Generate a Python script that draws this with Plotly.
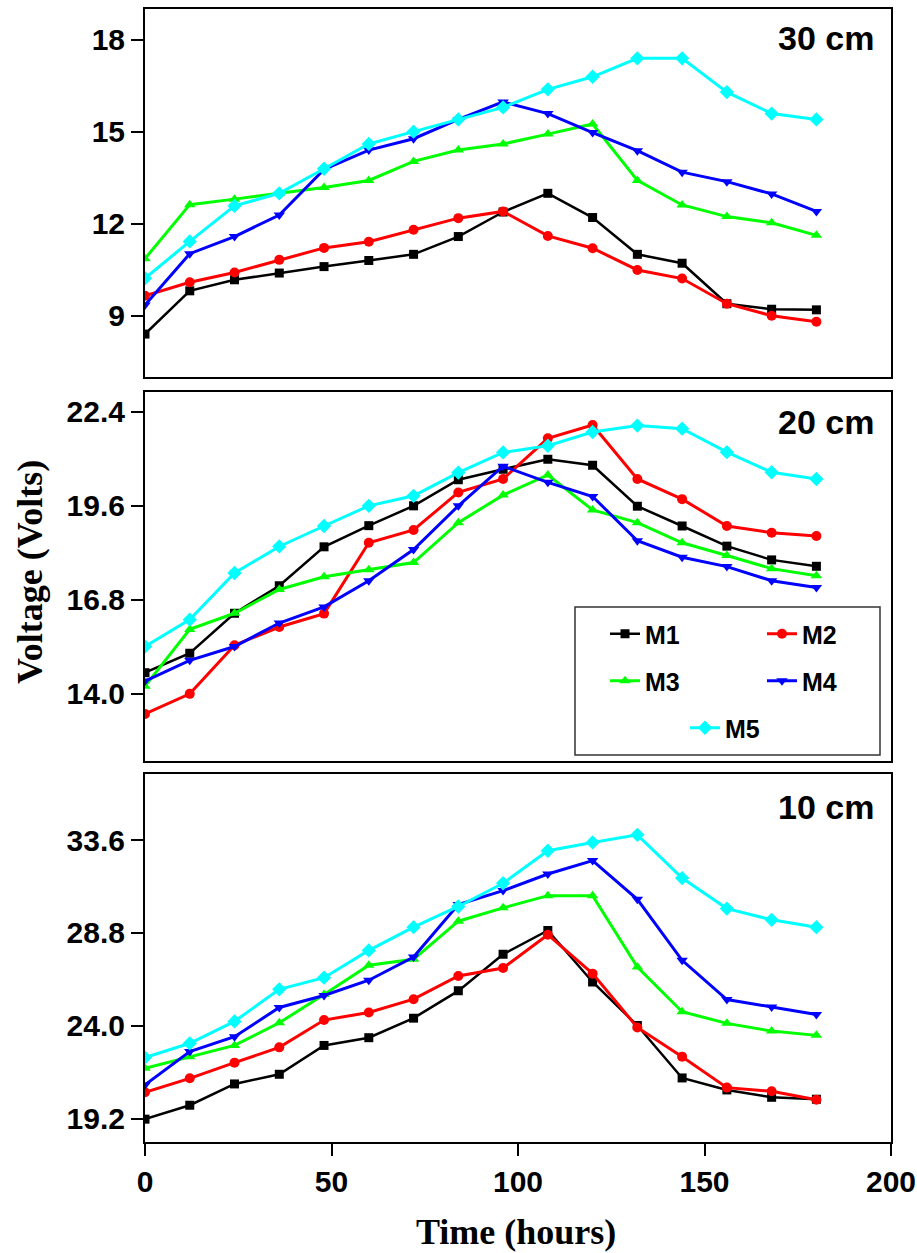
import plotly.graph_objects as go
from plotly.subplots import make_subplots

time_h = [0, 12, 24, 36, 48, 60, 72, 84, 96, 108, 120, 132, 144, 156, 168, 180]
series_names = ["M1", "M2", "M3", "M4", "M5"]
colors = ["#000000", "#FF0000", "#00FF00", "#0000FF", "#00FFFF"]
symbols = ["square", "circle", "triangle-up", "triangle-down", "diamond"]
marker_sizes = [9, 10, 10, 10, 11]
legend_ids = ["legend", "legend", "legend2", "legend2", "legend3"]

# 30 cm panel
v30_M1 = [8.4, 9.81, 10.17, 10.39, 10.6, 10.8, 11.0, 11.58, 12.38, 12.99, 12.2, 11.0, 10.71, 9.39, 9.21, 9.19]
v30_M2 = [9.65, 10.09, 10.41, 10.82, 11.21, 11.41, 11.8, 12.18, 12.4, 11.6, 11.2, 10.49, 10.21, 9.39, 9.0, 8.8]
v30_M3 = [10.86, 12.62, 12.8, 12.99, 13.18, 13.41, 14.03, 14.4, 14.6, 14.92, 15.25, 13.41, 12.61, 12.23, 12.03, 11.62]
v30_M4 = [9.35, 11.02, 11.58, 12.28, 13.77, 14.4, 14.77, 15.4, 15.97, 15.59, 14.97, 14.38, 13.68, 13.37, 12.97, 12.4]
v30_M5 = [10.22, 11.42, 12.58, 12.99, 13.79, 14.6, 15.0, 15.4, 15.79, 16.38, 16.79, 17.39, 17.39, 16.29, 15.59, 15.4]

# 20 cm panel
v20_M1 = [14.63, 15.21, 16.4, 17.22, 18.38, 19.01, 19.6, 20.38, 20.69, 20.99, 20.81, 19.59, 19.0, 18.4, 17.99, 17.8]
v20_M2 = [13.4, 14.0, 15.45, 15.99, 16.39, 18.5, 18.88, 20.0, 20.4, 21.61, 22.01, 20.4, 19.8, 19.0, 18.8, 18.7]
v20_M3 = [14.23, 15.92, 16.4, 17.11, 17.49, 17.7, 17.91, 19.1, 19.92, 20.52, 19.48, 19.1, 18.5, 18.12, 17.73, 17.52]
v20_M4 = [14.38, 15.0, 15.41, 16.11, 16.59, 17.37, 18.3, 19.6, 20.78, 20.3, 19.88, 18.56, 18.07, 17.79, 17.37, 17.17]
v20_M5 = [15.41, 16.21, 17.6, 18.39, 19.0, 19.6, 19.9, 20.59, 21.19, 21.39, 21.8, 21.99, 21.9, 21.2, 20.6, 20.4]

# 10 cm panel
v10_M1 = [19.18, 19.9, 21.0, 21.5, 22.99, 23.39, 24.4, 25.81, 27.7, 28.93, 26.27, 24.02, 21.31, 20.69, 20.31, 20.21]
v10_M2 = [20.57, 21.29, 22.1, 22.89, 24.3, 24.69, 25.38, 26.58, 26.99, 28.71, 26.7, 23.92, 22.41, 20.81, 20.62, 20.18]
v10_M3 = [21.81, 22.41, 22.99, 24.16, 25.62, 27.13, 27.44, 29.41, 30.1, 30.73, 30.73, 27.04, 24.73, 24.13, 23.73, 23.51]
v10_M4 = [20.95, 22.67, 23.44, 24.95, 25.57, 26.36, 27.56, 30.27, 30.99, 31.85, 32.54, 30.54, 27.39, 25.36, 24.98, 24.59]
v10_M5 = [22.36, 23.1, 24.23, 25.89, 26.49, 27.9, 29.1, 30.17, 31.37, 33.05, 33.48, 33.87, 31.64, 30.06, 29.48, 29.1]

panels = [
    ("30 cm", [v30_M1, v30_M2, v30_M3, v30_M4, v30_M5]),
    ("20 cm", [v20_M1, v20_M2, v20_M3, v20_M4, v20_M5]),
    ("10 cm", [v10_M1, v10_M2, v10_M3, v10_M4, v10_M5]),
]
y_ranges = [[7, 19], [12, 23], [18, 37]]
y_tick0 = [9, 14.0, 19.2]
y_dtick = [3, 2.8, 4.8]
y_fmt = ["d", ".1f", ".1f"]

W, H = 917, 1253
ML, MR, MT, MB = 145, 26, 9, 111
PW = W - ML - MR
PH = H - MT - MB

def px_x(x):
    return (x - ML) / PW

def px_y(y):
    return (H - MB - y) / PH

def pdom(top_px, bot_px):
    return [px_y(bot_px), px_y(top_px)]

domains = [pdom(9, 377), pdom(391.7, 761), pdom(774.3, 1142)]

fig = make_subplots(rows=3, cols=1, shared_xaxes=True)

for r, (label, vals) in enumerate(panels, start=1):
    for i, name in enumerate(series_names):
        fig.add_trace(go.Scatter(
            x=time_h, y=vals[i], name=name, mode="lines+markers",
            line=dict(color=colors[i], width=3 if i else 2.5),
            marker=dict(symbol=symbols[i], size=marker_sizes[i], color=colors[i]),
            showlegend=(r == 2), legend=legend_ids[i],
        ), row=r, col=1)

font_tick = dict(family="Liberation Sans, Arial, sans-serif", size=30, color="black", weight="bold")

for r in range(1, 4):
    suf = "" if r == 1 else str(r)
    fig.layout["yaxis" + suf].update(
        domain=domains[r - 1], range=y_ranges[r - 1], tick0=y_tick0[r - 1], dtick=y_dtick[r - 1],
        tickmode="linear", tickformat=y_fmt[r - 1],
        showline=True, linecolor="black", linewidth=2, mirror=True,
        ticks="outside", ticklen=12, tickwidth=2, tickcolor="black",
        tickfont=font_tick, showgrid=False, zeroline=False,
    )
    fig.layout["xaxis" + suf].update(
        range=[0, 200], showline=True, linecolor="black", linewidth=2, mirror=True,
        showgrid=False, zeroline=False,
        ticks="outside" if r == 3 else "", ticklen=12, tickwidth=2, tickcolor="black",
        tick0=0, dtick=50, tickmode="linear",
        showticklabels=(r == 3), tickfont=font_tick,
    )

label_y = [0.921, 0.919, 0.912]
for r, (label, _) in enumerate(panels, start=1):
    suf = "" if r == 1 else str(r)
    fig.add_annotation(
        text=label, xref="x" + suf + " domain", yref="y" + suf + " domain",
        x=0.98, y=label_y[r - 1], xanchor="right", yanchor="middle", showarrow=False,
        font=dict(family="Liberation Sans, Arial, sans-serif", size=34, color="black", weight="bold"),
    )

fig.add_annotation(
    text="Voltage (Volts)", xref="paper", yref="paper",
    x=px_x(30), y=px_y(572), xanchor="center", yanchor="middle",
    textangle=-90, showarrow=False,
    font=dict(family="Liberation Serif, Times New Roman, serif", size=36, color="black", weight="bold"),
)
fig.add_annotation(
    text="Time (hours)", xref="paper", yref="paper",
    x=px_x(516), y=px_y(1232), xanchor="center", yanchor="middle",
    showarrow=False,
    font=dict(family="Liberation Serif, Times New Roman, serif", size=36, color="black", weight="bold"),
)

# legend frame
fig.add_shape(type="rect", xref="paper", yref="paper",
              x0=px_x(575), x1=px_x(880), y0=px_y(755), y1=px_y(607),
              line=dict(color="#333333", width=1.5), fillcolor="white", layer="above")

leg_font = dict(family="Liberation Sans, Arial, sans-serif", size=25, color="black", weight="bold")
common_leg = dict(orientation="h", xanchor="left", yanchor="middle", bgcolor="rgba(0,0,0,0)",
                  borderwidth=0, font=leg_font, entrywidth=112, entrywidthmode="pixels")
fig.update_layout(
    width=W, height=H, margin=dict(l=ML, r=MR, t=MT, b=MB, autoexpand=False),
    plot_bgcolor="white", paper_bgcolor="white",
    legend=dict(x=px_x(605), y=px_y(634), **common_leg),
    legend2=dict(x=px_x(605), y=px_y(681), **common_leg),
    legend3=dict(x=px_x(685), y=px_y(728), **common_leg),
)

fig.write_html("out.html")
